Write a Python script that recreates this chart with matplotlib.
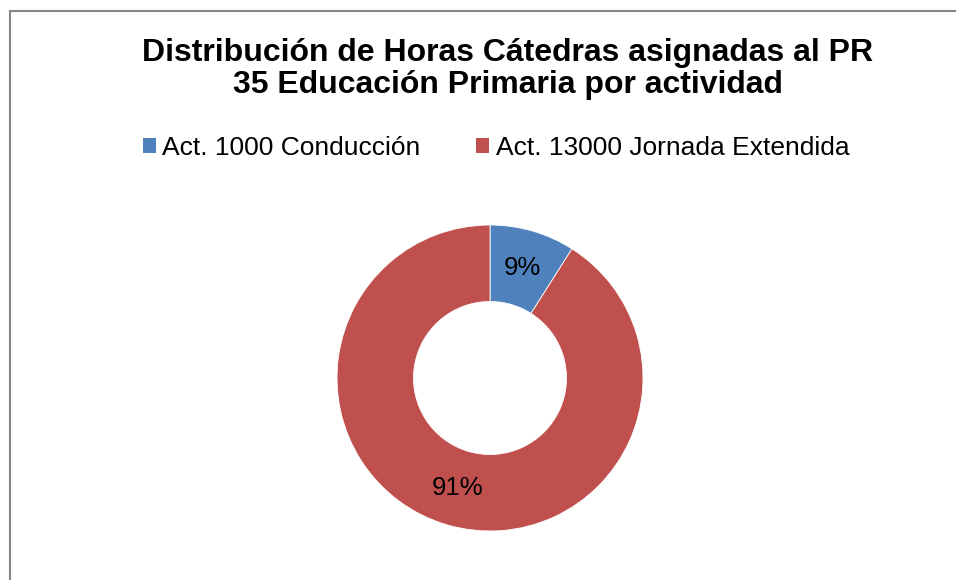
import matplotlib
matplotlib.use("Agg")
import matplotlib.pyplot as plt
from matplotlib.lines import Line2D
from matplotlib.patches import Patch

plt.rcParams['font.family'] = ['Liberation Sans', 'DejaVu Sans']

title = "Distribución de Horas Cátedras asignadas al PR\n35 Educación Primaria por actividad"
labels = ["Act. 1000 Conducción", "Act. 13000 Jornada Extendida"]
values = [9, 91]
colors = ["#4F81BD", "#C0504D"]

W, H = 956, 580
fig = plt.figure(figsize=(W / 100, H / 100), dpi=100)

# chart frame (left and top edge visible)
fig.add_artist(Line2D([10 / W, 10 / W], [0, 1 - 11 / H], color="#868686", lw=1.5))
fig.add_artist(Line2D([10 / W, 1], [1 - 11 / H, 1 - 11 / H], color="#868686", lw=1.5))

fig.text(508 / W, 1 - 69 / H, title, ha="center", va="center", fontsize=23,
         fontweight="bold", linespacing=1.12)

# donut
cx, cy, r = 490, 378, 153
ax = fig.add_axes([(cx - r) / W, (H - cy - r) / H, 2 * r / W, 2 * r / H])
wedges, texts, autotexts = ax.pie(values, colors=colors, startangle=90, counterclock=False,
                                  radius=1, autopct="%d%%", pctdistance=0.75,
                                  wedgeprops=dict(width=0.5, edgecolor="white", linewidth=0.6),
                                  textprops=dict(fontsize=18.5, color="black"))
ax.set_xlim(-1, 1)
ax.set_ylim(-1, 1)
ax.set_aspect("equal")
ax.axis("off")

handles = [Patch(facecolor=c, edgecolor="none") for c in colors]
fig.legend(handles, labels, loc="center", bbox_to_anchor=(496 / W, 1 - 148 / H), ncol=2,
           frameon=False, fontsize=19, handlelength=0.5, handleheight=0.5,
           handletextpad=0.25, columnspacing=2.1, borderpad=0, borderaxespad=0)

fig.savefig("out.png", dpi=100, facecolor="white")
